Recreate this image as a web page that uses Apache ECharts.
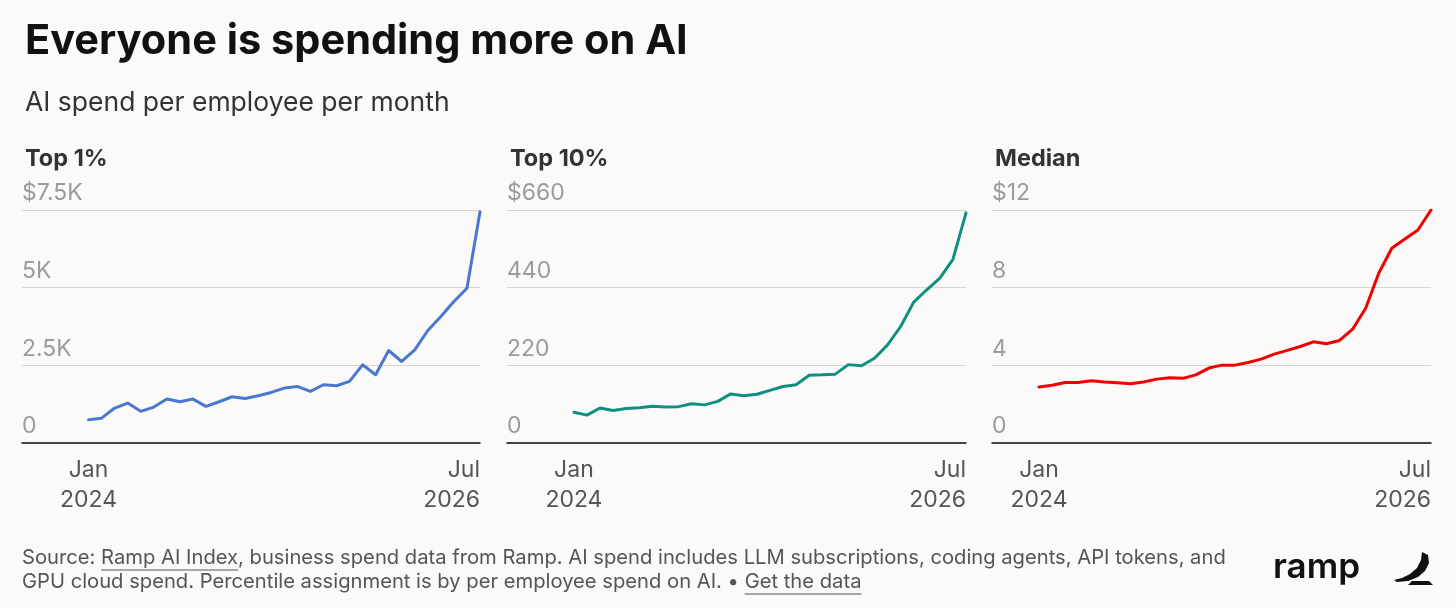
<!DOCTYPE html>
<html>
<head>
<meta charset="utf-8">
<title>Everyone is spending more on AI</title>
<script src="https://cdn.jsdelivr.net/npm/echarts@6/dist/echarts.min.js"></script>
<style>
html, body { margin: 0; padding: 0; background: #fbfaf8; }
#chart { width: 1456px; height: 608px; }
</style>
</head>
<body>
<div id="chart"></div>
<script>
// monthly points, Jan 2024 .. Jul 2026
var months = ['2024-01', '2024-02', '2024-03', '2024-04', '2024-05', '2024-06',
	'2024-07', '2024-08', '2024-09', '2024-10', '2024-11', '2024-12',
	'2025-01', '2025-02', '2025-03', '2025-04', '2025-05', '2025-06',
	'2025-07', '2025-08', '2025-09', '2025-10', '2025-11', '2025-12',
	'2026-01', '2026-02', '2026-03', '2026-04', '2026-05', '2026-06', '2026-07'];

var top1Values = [750, 800, 1125, 1285, 1020, 1157, 1414, 1328, 1414, 1178,
	1328, 1489, 1435, 1521, 1628, 1767, 1821, 1660, 1875, 1842,
	1982, 2517, 2196, 2978, 2624, 3000, 3621, 4071, 4553, 4982, 7446];

var top10Values = [87, 79, 99, 92, 98, 100, 104, 102, 103, 111,
	108, 118, 139, 134, 138, 149, 160, 165, 192, 193,
	195, 222, 219, 240, 278, 330, 399, 434, 467, 520, 652];

var medianValues = [2.88, 2.97, 3.12, 3.12, 3.21, 3.14, 3.10, 3.05, 3.14, 3.29,
	3.36, 3.33, 3.51, 3.86, 4.01, 4.01, 4.15, 4.32, 4.58, 4.77,
	4.97, 5.21, 5.11, 5.28, 5.86, 6.94, 8.74, 10.03, 10.51, 10.97, 12.0];

var top1Ticks = ['0', '2.5K', '5K', '$7.5K'];
var top10Ticks = ['0', '220', '440', '$660'];
var medianTicks = ['0', '4', '8', '$12'];

var panelNames = ['Top 1%', 'Top 10%', 'Median'];
var xStartLabel = 'Jan\n2024';
var xEndLabel = 'Jul\n2026';

var FONT = 'Inter, "Noto Sans", sans-serif';

var panels = [
	{ name: panelNames[0], values: top1Values, ticks: top1Ticks, max: 7500, step: 2500,
		left: 22, width: 458, xMin: -5.1, color: '#4a78d0' },
	{ name: panelNames[1], values: top10Values, ticks: top10Ticks, max: 660, step: 220,
		left: 507, width: 459, xMin: -5.12, color: '#0e9080' },
	{ name: panelNames[2], values: medianValues, ticks: medianTicks, max: 12, step: 4,
		left: 992, width: 439, xMin: -3.6, color: '#f00000' }
];

var grids = [], xAxes = [], yAxes = [], series = [], titles = [];

titles.push({
	text: 'Everyone is spending more on AI',
	left: 20, top: 16,
	textStyle: { fontFamily: FONT, fontSize: 41.5, fontWeight: 'bold', color: '#111' }
});
titles.push({
	text: 'AI spend per employee per month',
	left: 20, top: 85,
	textStyle: { fontFamily: FONT, fontSize: 26.5, fontWeight: 'normal', color: '#333' }
});

for (var i = 0; i < panels.length; i++) {
	var p = panels[i];
	grids.push({ left: p.left, width: p.width, top: 210, height: 233 });

	titles.push({
		text: p.name,
		left: p.left - 2, top: 142,
		textStyle: { fontFamily: FONT, fontSize: 23.5, fontWeight: 'bold', color: '#333' }
	});

	yAxes.push({
		type: 'value', gridIndex: i, min: 0, max: p.max, interval: p.step,
		axisLine: { show: false }, axisTick: { show: false },
		splitLine: { lineStyle: { color: '#d6d6d6', width: 1 } },
		axisLabel: {
			inside: true, margin: 0, align: 'left', verticalAlign: 'bottom',
			padding: [0, 0, 5, 0],
			fontFamily: FONT, fontSize: 23, color: '#9b9b9b',
			formatter: (function (ticks, step) {
				return function (v) { return ticks[Math.round(v / step)]; };
			})(p.ticks, p.step)
		}
	});

	// start label (centered) on the visible axis
	xAxes.push({
		type: 'value', gridIndex: i, min: p.xMin, max: months.length - 1, position: 'bottom',
		axisLine: { lineStyle: { color: '#111', width: 1.5 } },
		axisTick: { show: false }, splitLine: { show: false },
		axisLabel: {
			customValues: [0], margin: 12, lineHeight: 30,
			fontFamily: FONT, fontSize: 23, color: '#555',
			formatter: function () { return xStartLabel; }
		}
	});
	// end label (right aligned) on an overlay axis
	xAxes.push({
		type: 'value', gridIndex: i, min: p.xMin, max: months.length - 1, position: 'bottom',
		axisLine: { show: false }, axisTick: { show: false }, splitLine: { show: false },
		axisLabel: {
			customValues: [months.length - 1], margin: 12, lineHeight: 30, align: 'right',
			fontFamily: FONT, fontSize: 23, color: '#555',
			formatter: function () { return xEndLabel; }
		}
	});

	series.push({
		name: p.name, type: 'line',
		xAxisIndex: i * 2, yAxisIndex: i,
		showSymbol: false, symbol: 'none',
		lineStyle: { color: p.color, width: 3, join: 'round', cap: 'round' },
		data: p.values.map(function (v, k) { return [k, v]; })
	});
}

// footer text + underlines for the two links
var footFont = '20.2px ' + FONT;
var line1 = 'Source: Ramp AI Index, business spend data from Ramp. AI spend includes LLM subscriptions, coding agents, API tokens, and';
var line2 = 'GPU cloud spend. Percentile assignment is by per employee spend on AI. \u2022 Get the data';
var ctx = document.createElement('canvas').getContext('2d');
ctx.font = footFont;
function w(s) { return ctx.measureText(s).width; }
var fx = 22, fy1 = 548, fy2 = 572;
var u1x = fx + w('Source: '), u1w = w('Ramp AI Index');
var u2x = fx + w('GPU cloud spend. Percentile assignment is by per employee spend on AI. \u2022 '), u2w = w('Get the data');

var graphics = [
	{ type: 'text', left: fx, top: fy1, style: { text: line1, font: footFont, fill: '#555' } },
	{ type: 'text', left: fx, top: fy2, style: { text: line2, font: footFont, fill: '#555' } },
	{ type: 'line', shape: { x1: u1x, y1: fy1 + 22, x2: u1x + u1w, y2: fy1 + 22 }, style: { stroke: '#555', lineWidth: 1 } },
	{ type: 'line', shape: { x1: u2x, y1: fy2 + 22, x2: u2x + u2w, y2: fy2 + 22 }, style: { stroke: '#555', lineWidth: 1 } },
	// ramp wordmark
	{ type: 'text', left: 1273, top: 550, style: { text: 'ramp', font: '600 35px ' + FONT, fill: '#111' } },
	{ type: 'polygon', shape: { points: [[1422, 552], [1421, 560], [1417, 568], [1410, 574], [1402, 578], [1394, 580],
		[1397, 582], [1408, 581], [1418, 577], [1425, 571], [1429, 563], [1428, 555]] },
		style: { fill: '#111' } },
	{ type: 'polygon', shape: { points: [[1412, 581], [1429, 581], [1433, 585], [1408, 585]] }, style: { fill: '#111' } }
];

var chart = echarts.init(document.getElementById('chart'));
chart.setOption({
	backgroundColor: '#fbfaf8',
	animation: false,
	title: titles,
	grid: grids,
	xAxis: xAxes,
	yAxis: yAxes,
	series: series,
	graphic: graphics
});
window.onresize = chart.resize;
</script>
</body>
</html>
